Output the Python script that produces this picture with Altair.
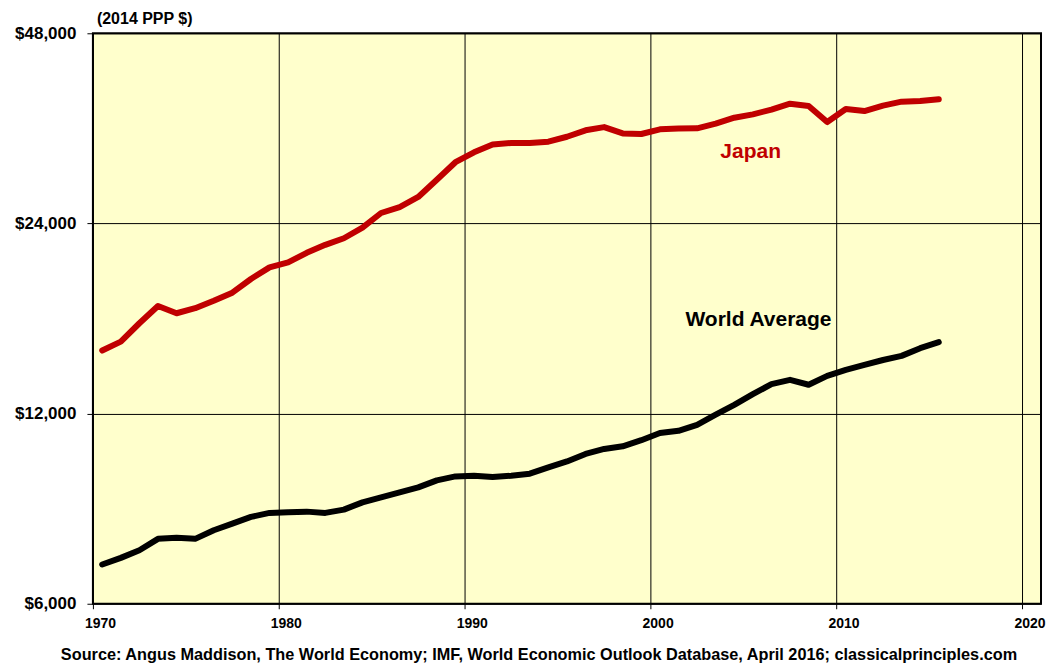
import altair as alt
import pandas as pd

years = list(range(1970, 2016))

japan = [15100, 15600, 16680, 17760, 17300, 17620, 18110, 18650, 19600, 20450,
         20820, 21560, 22200, 22740, 23630, 24930, 25480, 26430, 28150, 30000,
         31100, 32000, 32180, 32180, 32330, 32920, 33700, 34100, 33320, 33250,
         33820, 33910, 33950, 34530, 35290, 35720, 36340, 37140, 36820, 34730,
         36420, 36150, 36870, 37410, 37490, 37730]

world = [6922, 7092, 7292, 7601, 7629, 7601, 7843, 8036, 8234, 8355,
         8373, 8394, 8355, 8456, 8683, 8840, 9005, 9170, 9407, 9545,
         9569, 9524, 9569, 9640, 9864, 10080, 10360, 10550, 10650, 10890,
         11180, 11270, 11520, 11950, 12390, 12880, 13360, 13570, 13330, 13770,
         14070, 14330, 14590, 14810, 15230, 15570]

series_names = ["Japan", "World Average"]
series_colors = ["#C00000", "#000000"]

x_ticks = [1970, 1980, 1990, 2000, 2010, 2020]
y_ticks = [6000, 12000, 24000, 48000]

label_text = ["Japan", "World Average"]
label_year = [2005.38, 2005.8]
label_value = [31100, 16880]

source = ("Source: Angus Maddison, The World Economy; IMF, World Economic Outlook "
          "Database, April 2016; classicalprinciples.com")
units = "(2014 PPP $)"

FONT = "Liberation Sans"

df = pd.DataFrame({
    "year": years * 2,
    "value": japan + world,
    "series": ["Japan"] * len(years) + ["World Average"] * len(years),
})
df["x"] = df["year"] + 0.5

labels = pd.DataFrame({"text": label_text, "x": label_year, "value": label_value,
                       "series": series_names})

xscale = alt.Scale(domain=[1970, 2021], nice=False, zero=False)
yscale = alt.Scale(type="log", base=2, domain=[6000, 48000], nice=False)
cscale = alt.Scale(domain=series_names, range=series_colors)

xaxis = alt.Axis(values=x_ticks, format="d", grid=True, gridColor="black", gridWidth=1,
                 gridOpacity=1, domain=False, ticks=True, tickColor="black", tickSize=5,
                 labelFont=FONT, labelFontSize=14, labelFontWeight="bold", labelColor="black",
                 labelPadding=8, labelFlush=False, labelOffset=7,
                 title=source, titleFont=FONT, titleFontSize=16.3, titleFontWeight="bold",
                 titleColor="black", titleX=446, titleY=51, titleBaseline="middle",
                 titleAlign="center")

yaxis = alt.Axis(values=y_ticks, format="$,.0f", grid=True, gridColor="black", gridWidth=1,
                 gridOpacity=1, domain=False, ticks=True, tickColor="black", tickSize=6,
                 labelFont=FONT, labelFontSize=17, labelFontWeight="bold", labelColor="black",
                 labelPadding=11, labelFlush=False, title=None)

lines = alt.Chart(df).mark_line(strokeWidth=6, strokeJoin="round", strokeCap="round").encode(
    x=alt.X("x:Q", scale=xscale, axis=xaxis),
    y=alt.Y("value:Q", scale=yscale, axis=yaxis),
    color=alt.Color("series:N", scale=cscale, legend=None),
    detail="series:N",
)

texts = alt.Chart(labels).mark_text(font=FONT, fontSize=21, fontWeight="bold",
                                    baseline="middle", align="center").encode(
    x=alt.X("x:Q", scale=xscale),
    y=alt.Y("value:Q", scale=yscale),
    text="text:N",
    color=alt.Color("series:N", scale=cscale, legend=None),
)

chart = alt.layer(lines, texts).properties(
    width=949,
    height=571,
    title=alt.Title(units, anchor="start", frame="group", fontSize=16, fontWeight="bold",
                    font=FONT, color="black", offset=0, dx=4, dy=3),
    autosize=alt.AutoSizeParams(type="none"),
    padding={"left": 85, "top": 25, "right": 5, "bottom": 60},
    background="white",
).configure_view(
    fill="#FFFFCC", stroke="black", strokeWidth=2
)

chart.save("out.html", embed_options={"renderer": "svg", "actions": False})
